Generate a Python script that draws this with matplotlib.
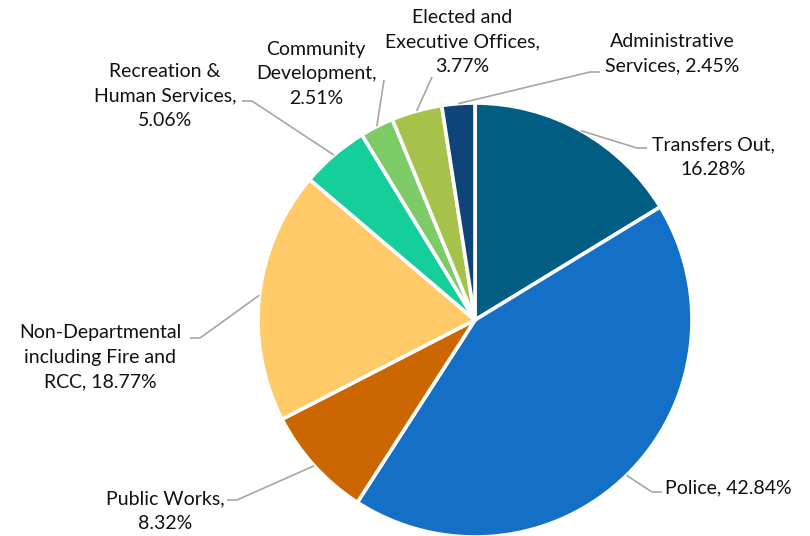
import numpy as np
import matplotlib.pyplot as plt

plt.rcParams['font.family'] = ['Lato', 'DejaVu Sans']

# data (clockwise from 12 o'clock)
categories = ['Transfers Out', 'Police', 'Public Works',
              'Non-Departmental\nincluding Fire and\nRCC',
              'Recreation &\nHuman Services', 'Community\nDevelopment',
              'Elected and\nExecutive Offices', 'Administrative\nServices']
shares = [16.28, 42.84, 8.32, 18.77, 5.06, 2.51, 3.77, 2.45]
label_sep = ['\n', ' ', '\n', ' ', '\n', '\n', '\n', ' ']
colors = ['#015E82', '#1470C7', '#CC6600', '#FFCA67',
          '#14CF9A', '#7CCB67', '#A7C24B', '#0E4477']

W, H = 810, 536
cx, cy, R = 475, 320, 217

# label layout in pixel coords (text x, text y, ha, leader elbow, leader end)
label_pos = [
    (713, 157, 'center', (637, 148), (647, 148)),
    (665, 488, 'left', (652, 492), (662, 492)),
    (165, 511, 'center', (237, 500), (227, 500)),
    (100, 357, 'center', (200, 338), (190, 338)),
    (165, 96, 'center', (252, 101), (242, 101)),
    (316, 74, 'center', (384, 80), (384, 80)),
    (462, 42, 'center', (432, 77), (432, 77)),
    (672, 54, 'center', (590, 72), (600, 72)),
]

fig = plt.figure(figsize=(W / 100, H / 100), dpi=100)
ax = fig.add_axes([0, 0, 1, 1])

wedges, _ = ax.pie(shares, colors=colors, startangle=90, counterclock=False,
                   center=(cx, H - cy), radius=R,
                   wedgeprops=dict(edgecolor='white', linewidth=2.6))
ax.set_xlim(0, W)
ax.set_ylim(0, H)
ax.set_aspect('equal')
ax.axis('off')

for w, cat, v, sep, (tx, ty, ha, elbow, end) in zip(wedges, categories, shares, label_sep, label_pos):
    mid = np.deg2rad((w.theta1 + w.theta2) / 2)
    sx = cx + R * np.cos(mid)
    sy = (H - cy) + R * np.sin(mid)
    ax.plot([sx, elbow[0], end[0]], [sy, H - elbow[1], H - end[1]],
            color='#A6A6A6', lw=1.2, solid_capstyle='butt')
    ax.text(tx, H - ty, f'{cat},{sep}{v:.2f}%', ha=ha, va='center',
            multialignment='center', fontsize=14, color='#111111',
            linespacing=1.55)

fig.savefig('out.png', dpi=100)
